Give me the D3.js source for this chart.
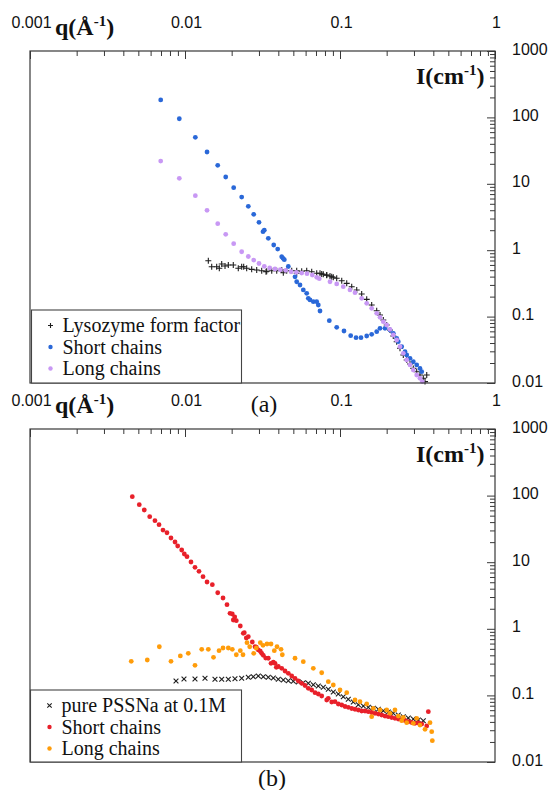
<!DOCTYPE html>
<html>
<head>
<meta charset="utf-8">
<script src="https://cdn.jsdelivr.net/npm/d3@7/dist/d3.min.js"></script>
<style>
  html, body { margin: 0; padding: 0; background: #fff; }
  svg { display: block; }
</style>
</head>
<body>
<svg id="chart" width="550" height="790"></svg>
<script>
// ---------- tick labels ----------
const qTickLabels = [0.001, 0.01, 0.1, 1];
const iTickLabels = [0.01, 0.1, 1, 10, 100, 1000];

// ---------- panel (a): lysozyme form factor ----------
const lysoQ = [0.01414, 0.01487, 0.01601, 0.01665, 0.01725, 0.01812, 0.01903, 0.02049, 0.02207, 0.02321, 0.02391, 0.025,
  0.02693, 0.02901, 0.03125, 0.03332, 0.03366, 0.03627, 0.03906, 0.04207, 0.04308, 0.04532, 0.04881, 0.05256, 0.05256,
  0.05661, 0.06098, 0.06568, 0.07075, 0.0743, 0.0762, 0.07804, 0.08208, 0.08208, 0.0862, 0.08841, 0.09053, 0.09522,
  0.1026, 0.1105, 0.119, 0.1282, 0.138, 0.1487, 0.1601, 0.1725, 0.1812, 0.1903, 0.2001, 0.2101, 0.2207, 0.2321,
  0.2438, 0.2561, 0.2693, 0.2829, 0.2971, 0.3125, 0.3281, 0.3447, 0.3627, 0.3536];
const lysoI = [0.695, 0.564, 0.564, 0.534, 0.619, 0.578, 0.598, 0.598, 0.534, 0.564, 0.564, 0.534,
  0.515, 0.504, 0.491, 0.474, 0.481, 0.491, 0.491, 0.504, 0.458, 0.491, 0.491, 0.491, 0.449,
  0.481, 0.491, 0.474, 0.449, 0.449, 0.438, 0.434, 0.423, 0.419, 0.409, 0.399, 0.391, 0.378,
  0.347, 0.317, 0.282, 0.252, 0.219, 0.182, 0.1496, 0.1227, 0.1057, 0.0889, 0.0747, 0.0628, 0.051, 0.0419,
  0.0333, 0.0264, 0.0222, 0.0193, 0.0166, 0.0148, 0.0132, 0.0118, 0.0132, 0.0105];

// panel (a): short chains
const shortAQ = [0.00697, 0.00919, 0.01166, 0.01387, 0.01626, 0.01831, 0.02061, 0.02321, 0.02561, 0.02775, 0.03002,
  0.03186, 0.03248, 0.03447, 0.03736, 0.03963, 0.04207, 0.04289, 0.04373, 0.04641, 0.05126, 0.05256, 0.0552,
  0.05797, 0.06098, 0.06244, 0.06405, 0.06726, 0.07075, 0.07244, 0.0743, 0.08531, 0.09522, 0.1061, 0.1172, 0.1269,
  0.1366, 0.1487, 0.1601, 0.1725, 0.1812, 0.1951, 0.2101, 0.2207, 0.2321, 0.2377, 0.25, 0.2627, 0.2693, 0.2829,
  0.2971, 0.3125, 0.3281, 0.3366];
const shortAI = [183, 95.5, 50.1, 30.1, 19.0, 12.65, 8.73, 6.32, 4.58, 3.47, 2.63,
  1.90, 2.0, 1.51, 1.197, 1.04, 0.798, 0.755, 0.719, 0.568, 0.397, 0.335, 0.299,
  0.252, 0.2245, 0.1887, 0.178, 0.1676, 0.168, 0.1496, 0.1214, 0.0868, 0.069, 0.0607, 0.0516, 0.0481,
  0.0481, 0.051, 0.0541, 0.0592, 0.0667, 0.0667, 0.0628, 0.056, 0.0471, 0.0419, 0.0352, 0.0296, 0.0264, 0.0235,
  0.0209, 0.0187, 0.0166, 0.0148];

// panel (a): long chains
const longAQ = [0.00697, 0.00919, 0.01166, 0.01387, 0.01626, 0.01831, 0.02061, 0.02321, 0.02561, 0.02775, 0.03002,
  0.03248, 0.0352, 0.03808, 0.0412, 0.04465, 0.04831, 0.05226, 0.05661, 0.06125, 0.06627, 0.07075, 0.07353,
  0.0862, 0.09522, 0.105, 0.116, 0.125, 0.138, 0.1487, 0.1601, 0.1725, 0.1812, 0.1903, 0.2001, 0.2101, 0.2207,
  0.2321, 0.2438, 0.2561, 0.2693, 0.2829, 0.2971, 0.3125, 0.3281, 0.3396];
const longAI = [22.0, 12.1, 6.62, 3.99, 2.51, 1.735, 1.253, 0.948, 0.804, 0.711, 0.631,
  0.572, 0.540, 0.521, 0.508, 0.497, 0.474, 0.464, 0.453, 0.443, 0.423, 0.391, 0.372,
  0.335, 0.310, 0.282, 0.252, 0.229, 0.1887, 0.1586, 0.1334, 0.1121, 0.0976, 0.0838, 0.0747, 0.0644, 0.0528,
  0.0444, 0.0352, 0.028, 0.0222, 0.0187, 0.0157, 0.0132, 0.0118, 0.0105];

// ---------- panel (b): pure PSSNa at 0.1M ----------
const pureQ = [0.00875, 0.00985, 0.0116, 0.01346, 0.01561, 0.01725, 0.01903, 0.02101, 0.02321, 0.02561, 0.02758,
  0.02971, 0.032, 0.03447, 0.03714, 0.03999, 0.04308, 0.04641, 0.04998, 0.05383, 0.05797, 0.06244, 0.06726,
  0.07244, 0.07804, 0.08405, 0.09053, 0.0975, 0.105, 0.1131, 0.1218, 0.1313, 0.1414, 0.1523, 0.164, 0.1767,
  0.1903, 0.2049, 0.2207, 0.2377, 0.2561, 0.2758, 0.2971, 0.32, 0.3447];
const pureI = [0.1645, 0.1763, 0.1763, 0.1807, 0.1745, 0.1745, 0.1745, 0.1781, 0.1807, 0.187, 0.191,
  0.1956, 0.191, 0.187, 0.1825, 0.1745, 0.1703, 0.1662, 0.1628, 0.1589, 0.1551, 0.152, 0.1448,
  0.1384, 0.1323, 0.1235, 0.1125, 0.105, 0.0956, 0.0874, 0.0796, 0.0725, 0.0693, 0.0663, 0.064, 0.0619,
  0.0589, 0.0563, 0.0538, 0.0508, 0.0479, 0.0458, 0.0442, 0.0427, 0.0417];

// panel (b): short chains
const shortBQ = [0.00457, 0.00507, 0.00546, 0.00592, 0.0064, 0.0068, 0.00721, 0.00765, 0.00812, 0.00862, 0.00897,
  0.00952, 0.0099, 0.0103, 0.01093, 0.0116, 0.01231, 0.01307, 0.01387, 0.01501, 0.01626, 0.01759, 0.01866,
  0.01951, 0.02019, 0.02049, 0.02092, 0.02143, 0.02274, 0.02377, 0.02413, 0.02486, 0.02561, 0.02718, 0.02829,
  0.02884, 0.02971, 0.0306, 0.03125, 0.032, 0.03316, 0.03447, 0.03589, 0.03714, 0.03808, 0.03882, 0.03999,
  0.04207, 0.04418, 0.04641, 0.04881, 0.05126, 0.05383, 0.05661, 0.05945, 0.06244, 0.06568, 0.06898, 0.07244,
  0.0762, 0.08208, 0.08405, 0.08841, 0.09284, 0.0975, 0.1026, 0.1077, 0.1131, 0.119, 0.125, 0.1313, 0.138,
  0.145, 0.1523, 0.1601, 0.1682, 0.1767, 0.1858, 0.1951, 0.2049, 0.2156, 0.2263, 0.2377, 0.25, 0.2627, 0.2758,
  0.2901, 0.3047, 0.32, 0.3366, 0.3627, 0.3714];
const shortBI = [96.3, 73.0, 60.8, 48.2, 42.0, 36.6, 30.4, 27.7, 23.1, 20.1, 17.5,
  15.25, 13.28, 12.09, 10.07, 8.38, 7.30, 6.06, 5.04, 4.59, 3.48, 2.90, 2.30,
  1.709, 1.668, 1.355, 1.504, 1.323, 1.102, 0.856, 0.874, 0.728, 0.761, 0.634, 0.538,
  0.528, 0.481, 0.460, 0.429, 0.40, 0.364, 0.361, 0.303, 0.317, 0.303, 0.264, 0.2716,
  0.255, 0.2325, 0.2147, 0.1956, 0.1807, 0.1645, 0.152, 0.1408, 0.1279, 0.1206, 0.1098, 0.105,
  0.098, 0.0853, 0.0905, 0.0796, 0.0804, 0.0743, 0.0718, 0.0681, 0.0663, 0.0636, 0.0619, 0.0604, 0.0583,
  0.0583, 0.0569, 0.0554, 0.0538, 0.0526, 0.0508, 0.049, 0.0479, 0.0466, 0.0453, 0.0442, 0.0427, 0.042, 0.0403,
  0.0392, 0.0381, 0.0385, 0.0372, 0.0347, 0.0569];

// panel (b): long chains
const longBQ = [0.0045, 0.00571, 0.00683, 0.00812, 0.00933, 0.0105, 0.0116, 0.01282, 0.01414, 0.01527, 0.01658,
  0.01759, 0.01903, 0.02019, 0.02143, 0.02274, 0.02367, 0.02512, 0.02615, 0.02775, 0.02884, 0.0306, 0.03186,
  0.03381, 0.03589, 0.03769, 0.03923, 0.04164, 0.04244, 0.05126, 0.05797, 0.06726, 0.0762, 0.08405, 0.09053,
  0.1, 0.1105, 0.125, 0.1346, 0.1487, 0.164, 0.1601, 0.1812, 0.2001, 0.2101, 0.2263, 0.2377, 0.25, 0.2561,
  0.2693, 0.2971, 0.3125, 0.3281, 0.3536, 0.3808, 0.3906, 0.3941];
const longBI = [0.325, 0.340, 0.538, 0.325, 0.391, 0.429, 0.283, 0.492, 0.492, 0.373, 0.469,
  0.515, 0.515, 0.492, 0.408, 0.469, 0.408, 0.618, 0.538, 0.429, 0.515, 0.618, 0.565,
  0.591, 0.591, 0.469, 0.538, 0.492, 0.408, 0.361, 0.321, 0.255, 0.219, 0.1606, 0.1433,
  0.1206, 0.1098, 0.0853, 0.0804, 0.0743, 0.064, 0.0479, 0.0604, 0.0604, 0.0538, 0.0604, 0.049, 0.0417, 0.0469,
  0.0389, 0.0381, 0.0453, 0.0359, 0.031, 0.0389, 0.0285, 0.0209];

// ---------- styling ----------
const COLORS = {
  black: "#1e1e1e",
  blue: "#2a68d8",
  lilac: "#c898f4",
  red: "#e8202a",
  orange: "#ff9c0a",
  frame: "#383838"
};
const SANS = "'Liberation Sans', Arial, Helvetica, sans-serif";
const SERIF = "'Liberation Serif', 'Times New Roman', Times, serif";

const svg = d3.select("#chart");
const x = d3.scaleLog().domain([0.001, 1]).range([30, 495]);

const zip = (qs, is) => qs.map((q, i) => ({ q, I: is[i] }));
const isDecade = v => Math.abs(Math.log10(v) - Math.round(Math.log10(v))) < 1e-6;

const plusPath = "M-3,0H3M0,-3V3";
const crossPath = "M-2.4,-2.4L2.4,2.4M-2.4,2.4L2.4,-2.4";

function drawPanel(cfg) {
  const { top, bottom, series, legend, caption } = cfg;
  const y = d3.scaleLog().domain([0.01, 1000]).range([bottom, top]);
  const g = svg.append("g");

  // data marks
  const plot = g.append("g");
  series.forEach(s => {
    const data = zip(s.q, s.I);
    if (s.shape === "dot") {
      plot.append("g").selectAll("circle").data(data).join("circle")
        .attr("cx", d => x(d.q)).attr("cy", d => y(d.I))
        .attr("r", 2.4).attr("fill", s.color);
    } else {
      plot.append("g").selectAll("path").data(data).join("path")
        .attr("transform", d => `translate(${x(d.q)},${y(d.I)})`)
        .attr("d", s.shape === "plus" ? plusPath : crossPath)
        .attr("fill", "none").attr("stroke", s.color).attr("stroke-width", 1.1);
    }
  });

  // frame
  g.append("rect")
    .attr("x", x.range()[0]).attr("y", top)
    .attr("width", x.range()[1] - x.range()[0]).attr("height", bottom - top)
    .attr("fill", "none").attr("stroke", COLORS.frame).attr("stroke-width", 1.2);

  // q ticks along the top edge (pointing inward)
  const qAll = x.ticks();
  const qMinor = qAll.filter(v => !isDecade(v));
  const qMajor = qAll.filter(isDecade);
  const topAxis = g.append("g").attr("transform", `translate(0,${top})`);
  topAxis.append("g").call(d3.axisBottom(x).tickValues(qMinor).tickSize(5).tickFormat(""));
  topAxis.append("g").call(d3.axisBottom(x).tickValues(qMajor).tickSize(8).tickFormat(""));
  topAxis.selectAll(".domain").remove();
  topAxis.selectAll("line").attr("stroke", COLORS.frame);

  // q labels above the panel
  const qLabels = g.append("g").attr("transform", `translate(1,${top})`)
    .call(d3.axisTop(x).tickValues(qTickLabels).tickSize(0).tickPadding(23).tickFormat(d3.format("~g")));
  qLabels.select(".domain").remove();
  qLabels.selectAll("text").attr("font-family", SANS).attr("font-size", 16).attr("fill", "#111");

  // intensity ticks along the right edge (pointing inward)
  const iAll = y.ticks();
  const iMinor = iAll.filter(v => !isDecade(v));
  const iMajor = iAll.filter(isDecade);
  const rightAxis = g.append("g").attr("transform", `translate(${x.range()[1]},0)`);
  rightAxis.append("g").call(d3.axisLeft(y).tickValues(iMinor).tickSize(5).tickFormat(""));
  rightAxis.append("g").call(d3.axisLeft(y).tickValues(iMajor).tickSize(8).tickFormat(""));
  rightAxis.selectAll(".domain").remove();
  rightAxis.selectAll("line").attr("stroke", COLORS.frame);

  const iLabels = g.append("g").attr("transform", `translate(${x.range()[1]},-2)`)
    .call(d3.axisRight(y).tickValues(iTickLabels).tickSize(0).tickPadding(17).tickFormat(d3.format("~g")));
  iLabels.select(".domain").remove();
  iLabels.selectAll("text").attr("font-family", SANS).attr("font-size", 16).attr("fill", "#111");

  // axis titles
  const qTitle = g.append("text").attr("x", 55).attr("y", top - 16.5)
    .attr("font-family", SERIF).attr("font-weight", "bold").attr("font-size", 24).attr("fill", "#111");
  qTitle.append("tspan").text("q(Å");
  qTitle.append("tspan").attr("dy", -9).attr("font-size", 15).text("-1");
  qTitle.append("tspan").attr("dy", 9).text(")");

  const iTitle = g.append("text").attr("x", 416).attr("y", top + 33)
    .attr("font-family", SERIF).attr("font-weight", "bold").attr("font-size", 24).attr("fill", "#111");
  iTitle.append("tspan").text("I(cm");
  iTitle.append("tspan").attr("dy", -9).attr("font-size", 15).text("-1");
  iTitle.append("tspan").attr("dy", 9).text(")");

  // legend
  const lg = g.append("g");
  lg.append("rect")
    .attr("x", legend.x).attr("y", legend.y).attr("width", legend.w).attr("height", legend.h)
    .attr("fill", "#fff").attr("stroke", "#444").attr("stroke-width", 1.1);
  series.forEach((s, i) => {
    const cy = legend.y + 15.5 + i * 21.5;
    if (s.shape === "dot") {
      lg.append("circle").attr("cx", legend.x + 19).attr("cy", cy).attr("r", 2.2).attr("fill", s.color);
    } else {
      lg.append("path").attr("transform", `translate(${legend.x + 19},${cy})`)
        .attr("d", s.shape === "plus" ? "M-2.5,0H2.5M0,-2.5V2.5" : "M-2.2,-2.2L2.2,2.2M-2.2,2.2L2.2,-2.2")
        .attr("fill", "none").attr("stroke", s.color).attr("stroke-width", 1.1);
    }
    lg.append("text").attr("x", legend.x + 31).attr("y", cy + 6.5)
      .attr("font-family", SERIF).attr("font-size", 20).attr("fill", "#111").text(s.name);
  });

  // panel caption
  g.append("text").attr("x", caption.x).attr("y", caption.y).attr("text-anchor", "middle")
    .attr("font-family", SERIF).attr("font-size", 24).attr("fill", "#111").text(caption.text);
}

drawPanel({
  top: 51, bottom: 383,
  series: [
    { name: "Lysozyme form factor", q: lysoQ, I: lysoI, shape: "plus", color: COLORS.black },
    { name: "Short chains", q: shortAQ, I: shortAI, shape: "dot", color: COLORS.blue },
    { name: "Long chains", q: longAQ, I: longAI, shape: "dot", color: COLORS.lilac }
  ],
  legend: { x: 31.5, y: 310, w: 210, h: 73 },
  caption: { text: "(a)", x: 264, y: 412 }
});

drawPanel({
  top: 429, bottom: 762,
  series: [
    { name: "pure PSSNa at 0.1M", q: pureQ, I: pureI, shape: "cross", color: COLORS.black },
    { name: "Short chains", q: shortBQ, I: shortBI, shape: "dot", color: COLORS.red },
    { name: "Long chains", q: longBQ, I: longBI, shape: "dot", color: COLORS.orange }
  ],
  legend: { x: 30.5, y: 690, w: 211, h: 72 },
  caption: { text: "(b)", x: 272, y: 786 }
});
</script>
</body>
</html>
